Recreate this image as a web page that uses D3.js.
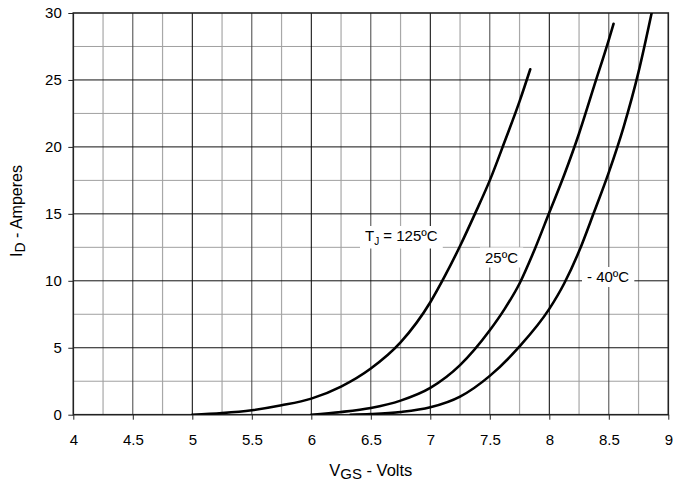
<!DOCTYPE html>
<html>
<head>
<meta charset="utf-8">
<script src="https://cdn.jsdelivr.net/npm/d3@7"></script>
<style>
    body { margin: 0; background: #fff; }
    text { font-family: Arial, "Liberation Sans", sans-serif; fill: #000; }
</style>
</head>
<body>
<div id="chart"></div>
<script>
// transfer characteristics
let xTicks = [4, 4.5, 5, 5.5, 6, 6.5, 7, 7.5, 8, 8.5, 9];
let yTicks = [0, 5, 10, 15, 20, 25, 30];

let vgs125 = [5, 5.25, 5.5, 5.75, 6, 6.25, 6.5, 6.75, 7, 7.125, 7.25, 7.375, 7.5, 7.625, 7.75, 7.84];
let id125 = [0, 0.12, 0.33, 0.7, 1.2, 2.1, 3.45, 5.4, 8.4, 10.4, 12.6, 15.0, 17.5, 20.4, 23.4, 25.8];

let vgs25 = [6, 6.25, 6.5, 6.75, 7, 7.25, 7.5, 7.625, 7.75, 7.875, 8.0, 8.125, 8.25, 8.375, 8.5, 8.54];
let id25 = [0, 0.2, 0.5, 1.05, 2.0, 3.7, 6.3, 7.9, 9.8, 12.3, 15.1, 17.9, 21.0, 24.5, 28.0, 29.2];

let vgs40 = [6.33, 6.5, 6.75, 7, 7.25, 7.5, 7.75, 8.0, 8.125, 8.25, 8.375, 8.5, 8.625, 8.75, 8.86];
let id40 = [0, 0.05, 0.2, 0.55, 1.35, 2.9, 5.1, 7.9, 9.8, 12.2, 15.1, 18.1, 21.5, 25.6, 30];

let margin = {top: 13, right: 4.7, bottom: 66.3, left: 73.3};
let width = 673 - margin.left - margin.right,
    height = 481 - margin.top - margin.bottom;

let svg = d3.select("#chart").append("svg")
    .attr("width", 673)
    .attr("height", 481)
    .append("g")
    .attr("transform", `translate(${margin.left},${margin.top})`);

let x = d3.scaleLinear().domain([4, 9]).range([0, width]);
let y = d3.scaleLinear().domain([0, 30]).range([height, 0]);

// grid: quarter volt / 2.5 A lines grey, majors dark
let grid = svg.append("g").attr("class", "grid");

grid.selectAll(".vminor")
    .data(d3.range(4.25, 9, 0.5))
    .enter().append("line")
    .attr("x1", d => x(d)).attr("x2", d => x(d))
    .attr("y1", 0).attr("y2", height)
    .attr("stroke", "#a8a8a8").attr("stroke-width", 1.2);

grid.selectAll(".hminor")
    .data(d3.range(2.5, 30, 5))
    .enter().append("line")
    .attr("x1", 0).attr("x2", width)
    .attr("y1", d => y(d)).attr("y2", d => y(d))
    .attr("stroke", "#a0a0a0").attr("stroke-width", 1);

grid.selectAll(".vmajor")
    .data(xTicks.slice(1, -1))
    .enter().append("line")
    .attr("x1", d => x(d)).attr("x2", d => x(d))
    .attr("y1", 0).attr("y2", height)
    .attr("stroke", d => d % 1 === 0 ? "#000" : "#444").attr("stroke-width", 1);

grid.selectAll(".hmajor")
    .data(yTicks.slice(1, -1))
    .enter().append("line")
    .attr("x1", 0).attr("x2", width)
    .attr("y1", d => y(d)).attr("y2", d => y(d))
    .attr("stroke", "#111").attr("stroke-width", 1);

// axes
let xAxis = d3.axisBottom(x).tickValues(xTicks).tickFormat(d3.format("")).tickSizeInner(5).tickSizeOuter(0).tickPadding(14.5);
let yAxis = d3.axisLeft(y).tickValues(yTicks).tickSizeInner(5).tickSizeOuter(0).tickPadding(6.5);

svg.append("g")
    .attr("class", "x-axis axis")
    .attr("transform", `translate(0,${height})`)
    .call(xAxis);

svg.append("g")
    .attr("class", "y-axis axis")
    .call(yAxis);

svg.selectAll(".axis text").attr("font-size", "15px").attr("font-family", null);
svg.selectAll(".axis path").remove();
svg.selectAll(".axis line").attr("stroke", "#222");

// plot frame
svg.append("rect")
    .attr("x", 0).attr("y", 0)
    .attr("width", width).attr("height", height)
    .attr("fill", "none")
    .attr("stroke", "#222")
    .attr("stroke-width", 1.6);

svg.append("defs").append("clipPath")
    .attr("id", "clip-1")
    .append("rect")
    .attr("width", width)
    .attr("height", height);

// curves
let line = d3.line()
    .x(d => x(d[0]))
    .y(d => y(d[1]))
    .curve(d3.curveMonotoneX);

let series = [
    d3.zip(vgs125, id125),
    d3.zip(vgs25, id25),
    d3.zip(vgs40, id40)
];

svg.append("g")
    .attr("clip-path", "url(#clip-1)")
    .selectAll("path")
    .data(series)
    .enter().append("path")
    .attr("d", line)
    .attr("fill", "none")
    .attr("stroke", "#000")
    .attr("stroke-width", 2.6)
    .attr("stroke-linecap", "round");

// curve labels with white boxes
function addLabel(px, py, build) {
    let g = svg.append("g").attr("transform", `translate(${px - margin.left},${py - margin.top})`);
    let bg = g.append("rect").attr("fill", "#fff");
    let t = g.append("text").attr("font-size", "15px");
    build(t);
    let bb = t.node().getBBox();
    bg.attr("x", bb.x - 5).attr("y", bb.y - 1)
        .attr("width", bb.width + 10).attr("height", bb.height + 3);
}

addLabel(365, 241, t => {
    t.append("tspan").text("T");
    t.append("tspan").attr("font-size", "10px").attr("dy", 3.5).text("J");
    t.append("tspan").attr("dy", -3.5).text(" = 125ºC");
});
addLabel(485, 262.5, t => t.text("25ºC"));
addLabel(587, 282, t => t.text("- 40ºC"));

// axis titles
svg.append("text")
    .attr("x", width / 2)
    .attr("y", 476 - margin.top)
    .attr("text-anchor", "middle")
    .attr("font-size", "16.5px")
    .call(t => {
        t.append("tspan").text("V");
        t.append("tspan").attr("font-size", "15px").attr("dy", 3).text("GS");
        t.append("tspan").attr("dy", -3).text(" - Volts");
    });

svg.append("text")
    .attr("transform", `translate(${22 - margin.left},${211 - margin.top}) rotate(-90)`)
    .attr("text-anchor", "middle")
    .attr("font-size", "16px")
    .call(t => {
        t.append("tspan").text("I");
        t.append("tspan").attr("font-size", "14px").attr("dy", 3).text("D");
        t.append("tspan").attr("dy", -3).text(" - Amperes");
    });
</script>
</body>
</html>
